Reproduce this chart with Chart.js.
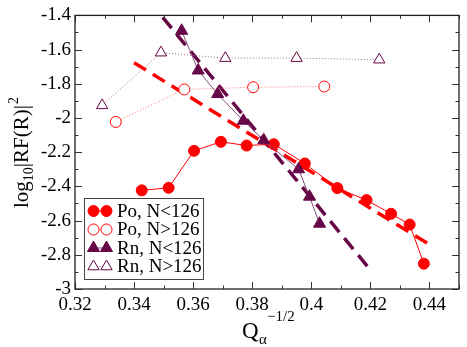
<!DOCTYPE html>
<html><head><meta charset="utf-8">
<script src="https://cdn.jsdelivr.net/npm/chart.js@4/dist/chart.umd.min.js"></script>
<style>html,body{margin:0;padding:0;background:#fff}#wrap{width:467px;height:347px}</style>
</head><body><div id="wrap"><canvas id="c" width="467" height="347"></canvas></div>
<script>
// ---- data ----
const seriesLabels = ['Po, N<126', 'Po, N>126', 'Rn, N<126', 'Rn, N>126'];
const poLowX  = [0.3426, 0.3517, 0.3603, 0.3694, 0.3781, 0.3873, 0.3978, 0.4088, 0.4187, 0.4270, 0.4333, 0.4381];
const poLowY  = [-2.423, -2.408, -2.192, -2.139, -2.161, -2.153, -2.266, -2.410, -2.480, -2.560, -2.623, -2.852];
const poHighX = [0.3338, 0.3570, 0.3803, 0.4044];
const poHighY = [-2.023, -1.833, -1.820, -1.816];
const rnLowX  = [0.3561, 0.3617, 0.3683, 0.3770, 0.3839, 0.3957, 0.3994, 0.4028];
const rnLowY  = [-1.490, -1.722, -1.860, -2.016, -2.130, -2.300, -2.460, -2.618];
const rnHighX = [0.3292, 0.3491, 0.3709, 0.3950, 0.4230];
const rnHighY = [-1.926, -1.618, -1.650, -1.650, -1.659];
const poFitX = [0.3400, 0.4400];
const poFitY = [-1.677, -2.740];
const rnFitX = [0.3497, 0.4197];
const rnFitY = [-1.411, -2.882];
const xTicks = [0.32, 0.34, 0.36, 0.38, 0.40, 0.42, 0.44];
const yTicks = [-3.0, -2.8, -2.6, -2.4, -2.2, -2.0, -1.8, -1.6, -1.4];
const xMinorStep = 0.01, yMinorStep = 0.1;

const RED = '#ff0000', MAROON = '#670748';
const pts = (xs, ys) => xs.map((x, i) => ({x, y: ys[i]}));
const FONT = '"Liberation Serif", "DejaVu Serif", serif';

const datasets = [
  {label: seriesLabels[0], data: pts(poLowX, poLowY), showLine: true,
   borderColor: RED, borderWidth: 1, pointStyle: 'circle', pointRadius: 5.5,
   pointBackgroundColor: RED, pointBorderColor: RED, pointBorderWidth: 1, order: 1},
  {label: seriesLabels[1], data: pts(poHighX, poHighY), showLine: true,
   borderColor: '#ff7070', borderWidth: 1, borderDash: [1, 2], pointStyle: 'circle', pointRadius: 5.5,
   pointBackgroundColor: '#ffffff', pointBorderColor: RED, pointBorderWidth: 1, order: 2},
  {label: seriesLabels[2], data: pts(rnLowX, rnLowY), showLine: true,
   borderColor: '#8a4a7e', borderWidth: 1, pointStyle: 'triangle', pointRadius: 7,
   pointBackgroundColor: MAROON, pointBorderColor: MAROON, pointBorderWidth: 1, order: 0},
  {label: seriesLabels[3], data: pts(rnHighX, rnHighY), showLine: true,
   borderColor: '#a06a98', borderWidth: 1, borderDash: [1, 2], pointStyle: 'triangle', pointRadius: 6.5,
   pointBackgroundColor: '#ffffff', pointBorderColor: MAROON, pointBorderWidth: 1, order: 3},
  {label: 'fitPo', data: pts(poFitX, poFitY), showLine: true, borderColor: RED, borderWidth: 3.5,
   borderDash: [14, 8], pointRadius: 0, order: 5},
  {label: 'fitRn', data: pts(rnFitX, rnFitY), showLine: true, borderColor: MAROON, borderWidth: 3.5,
   borderDash: [14, 8], pointRadius: 0, order: 4}
];

function fmt(v, d) { return String(Number(v.toFixed(d))); }

const decor = {
  id: 'decor',
  afterDraw(chart) {
    const ctx = chart.ctx, a = chart.chartArea, xs = chart.scales.x, ys = chart.scales.y;
    ctx.save();
    // ticks inward, mirrored
    ctx.strokeStyle = '#333'; ctx.lineWidth = 1;
    ctx.beginPath();
    const xmaj = new Set(xTicks.map(v => v.toFixed(3)));
    for (let v = xs.min; v <= xs.max + 1e-9; v += xMinorStep) {
      const major = xmaj.has(v.toFixed(3));
      const L = major ? 7 : 3.5;
      const px = Math.round(xs.getPixelForValue(v)) + 0.5;
      ctx.moveTo(px, a.bottom); ctx.lineTo(px, a.bottom - L);
      ctx.moveTo(px, a.top); ctx.lineTo(px, a.top + L);
    }
    const ymaj = new Set(yTicks.map(v => v.toFixed(3)));
    for (let v = ys.min; v <= ys.max + 1e-9; v += yMinorStep) {
      const major = ymaj.has(v.toFixed(3));
      const L = major ? 7 : 3.5;
      const py = Math.round(ys.getPixelForValue(v)) + 0.5;
      ctx.moveTo(a.left, py); ctx.lineTo(a.left + L, py);
      ctx.moveTo(a.right, py); ctx.lineTo(a.right - L, py);
    }
    ctx.stroke();
    // frame
    ctx.strokeStyle = '#222'; ctx.lineWidth = 1.3;
    ctx.strokeRect(a.left, a.top, a.right - a.left, a.bottom - a.top);

    // legend
    const lx = 84, ly = 198, lw = 119, lh = 81;
    ctx.fillStyle = '#fff'; ctx.fillRect(lx, ly, lw, lh);
    ctx.strokeStyle = '#444'; ctx.lineWidth = 1;
    ctx.strokeRect(lx + 0.5, ly + 0.5, lw, lh);
    const rows = [211, 229.5, 248, 266.5];
    for (let i = 0; i < 4; i++) {
      const ds = chart.data.datasets[i], y = rows[i];
      ctx.save();
      ctx.strokeStyle = ds.borderColor; ctx.lineWidth = ds.borderWidth;
      ctx.setLineDash(ds.borderDash || []);
      ctx.beginPath(); ctx.moveTo(93.5, y); ctx.lineTo(106.5, y); ctx.stroke();
      ctx.restore();
      for (const sx of [93.5, 106.5]) {
        ctx.fillStyle = ds.pointBackgroundColor; ctx.strokeStyle = ds.pointBorderColor; ctx.lineWidth = ds.pointBorderWidth;
        Chart.helpers.drawPoint(ctx, {pointStyle: ds.pointStyle, radius: ds.pointRadius, borderWidth: 1}, sx, y);
      }
      ctx.fillStyle = '#000'; ctx.font = '19px ' + FONT; ctx.textBaseline = 'middle'; ctx.textAlign = 'left';
      ctx.fillText(ds.label, 117, y + 1);
    }

    // y title
    ctx.save();
    ctx.translate(28, 208); ctx.rotate(-Math.PI / 2);
    ctx.fillStyle = '#000'; ctx.textBaseline = 'alphabetic'; ctx.textAlign = 'left';
    let x = 0;
    ctx.font = '21px ' + FONT; ctx.fillText('log', x, 0); x += ctx.measureText('log').width;
    ctx.font = '14px ' + FONT; ctx.fillText('10', x, 5); x += ctx.measureText('10').width;
    ctx.font = '21px ' + FONT; ctx.fillText('|RF(R)|', x, 0); x += ctx.measureText('|RF(R)|').width;
    ctx.font = '14px ' + FONT; ctx.fillText('2', x + 1, -10);
    ctx.restore();

    // x title
    ctx.fillStyle = '#000'; ctx.textBaseline = 'alphabetic'; ctx.textAlign = 'left';
    ctx.font = '23px ' + FONT; ctx.fillText('Q', 242, 338);
    ctx.font = '15px ' + FONT; ctx.fillText('α', 259, 344);
    ctx.font = '15px ' + FONT; ctx.fillText('−1/2', 267, 321);
    ctx.restore();
  }
};

new Chart(document.getElementById('c'), {
  type: 'scatter',
  data: {datasets},
  options: {
    responsive: false, animation: false, devicePixelRatio: 1,
    layout: {padding: {top: 8, right: 2, left: 0, bottom: 0}},
    plugins: {legend: {display: false}, tooltip: {enabled: false}},
    scales: {
      x: {type: 'linear', min: 0.32, max: 0.45,
          afterBuildTicks: s => { s.ticks = xTicks.map(v => ({value: v})); },
          afterFit: s => { s.height = 58; },
          grid: {display: false, drawTicks: false}, border: {display: false},
          ticks: {padding: 5, color: '#000', font: {family: FONT, size: 19}, callback: v => fmt(v, 2)}},
      y: {type: 'linear', min: -3, max: -1.4,
          afterBuildTicks: s => { s.ticks = yTicks.map(v => ({value: v})); },
          afterFit: s => { s.width = 75; },
          grid: {display: false, drawTicks: false}, border: {display: false},
          ticks: {padding: 4, color: '#000', font: {family: FONT, size: 19}, callback: v => fmt(v, 1)}}
    }
  },
  plugins: [decor]
});
</script></body></html>
